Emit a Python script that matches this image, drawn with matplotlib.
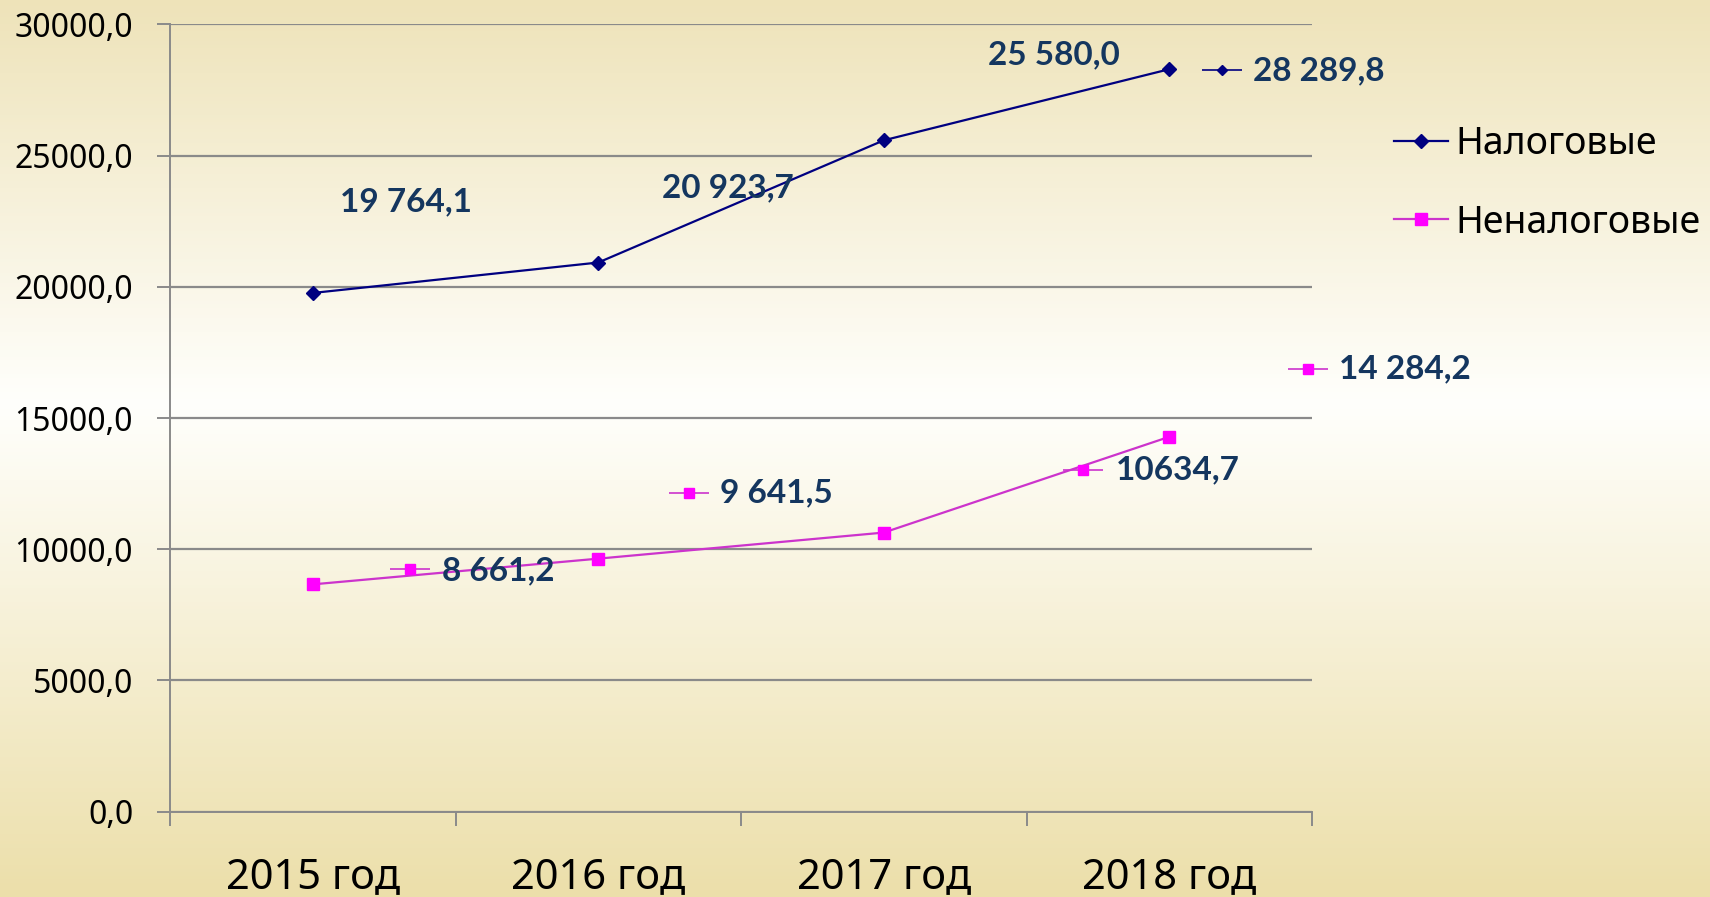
import numpy as np
import matplotlib
matplotlib.use('Agg')
import matplotlib.pyplot as plt
from matplotlib.colors import LinearSegmentedColormap
from matplotlib.transforms import offset_copy
from matplotlib.ticker import FixedLocator, FuncFormatter

plt.rcParams['font.family'] = ['Noto Sans', 'DejaVu Sans']

# data
years = ['2015 год', '2016 год', '2017 год', '2018 год']
tax = [19764.1, 20923.7, 25580.0, 28289.8]
nontax = [8661.2, 9641.5, 10634.7, 14284.2]
tax_labels = ['19 764,1', '20 923,7', '25 580,0', '28 289,8']
nontax_labels = ['8 661,2', '9 641,5', '10634,7', '14 284,2']

# label placement (offsets in points from the data point)
tax_key = [None, None, None, (38.0, -0.6)]
tax_text = [(67.5, 65.9, 'center'), (93.0, 53.9, 'center'),
            (122.3, 61.8, 'center'), (60.3, -1.0, 'left')]
nontax_key = [(70.1, 10.9), (65.5, 47.3), (143.5, 45.1), (99.6, 49.1)]
nontax_text = [(92.9, 10.0, 'left'), (87.5, 47.3, 'left'),
               (167.0, 45.1, 'left'), (122.4, 49.1, 'left')]

navy = '#000080'
mag_line = '#CC33CC'
mag = '#FF00FF'
lbl_col = '#14365F'
grid_col = '#8A8A8A'

fig = plt.figure(figsize=(17.1, 8.97), dpi=100)

# gradient background
bg = fig.add_axes([0, 0, 1, 1], zorder=0)
cmap = LinearSegmentedColormap.from_list('bg', [
    (0.0, (238/255, 227/255, 185/255)),
    (0.45, (255/255, 255/255, 252/255)),
    (1.0, (236/255, 223/255, 170/255))])
bg.imshow(np.linspace(0, 1, 256).reshape(-1, 1), cmap=cmap, aspect='auto',
          extent=[0, 1, 0, 1])
bg.axis('off')

ax = fig.add_axes([0.0994, 0.0951, 0.6679, 0.8778], zorder=1)
ax.set_facecolor('none')

x = np.arange(len(years))
ax.plot(x, tax, color=navy, lw=1.6, marker='D', ms=7, mfc=navy, mec=navy,
        label='Налоговые', zorder=4)
ax.plot(x, nontax, color=mag_line, lw=1.6, marker='s', ms=8.5, mfc=mag, mec=mag,
        label='Неналоговые', zorder=4)

ax.set_xlim(-0.5, 3.5)
ax.set_ylim(0, 30000)

# axes styling
for s in ['top', 'right']:
    ax.spines[s].set_visible(False)
for s in ['left', 'bottom']:
    ax.spines[s].set_color(grid_col)
    ax.spines[s].set_linewidth(1.4)

ax.yaxis.set_major_locator(FixedLocator(np.arange(0, 30001, 5000)))
ax.yaxis.set_major_formatter(FuncFormatter(lambda v, p: ('%.1f' % v).replace('.', ',')))
ax.grid(axis='y', color=grid_col, lw=1.6, zorder=1)
ax.tick_params(axis='y', length=9.5, width=1.4, color=grid_col, pad=17, labelsize=23)

ax.set_xticks(x)
ax.set_xticklabels(years)
ax.set_xticks(np.arange(-0.5, 4, 1), minor=True)
ax.tick_params(axis='x', which='major', length=0, pad=32, labelsize=30)
ax.tick_params(axis='x', which='minor', length=10, width=1.4, color=grid_col)

# data labels with keys
def add_labels(vals, labels, keys, texts, color, lcolor, marker, ms):
    for i, v in enumerate(vals):
        if keys[i] is not None:
            kx, ky = keys[i]
            tr = offset_copy(ax.transData, fig=fig, x=kx, y=ky, units='points')
            ax.plot(x[i], v, marker='_', ms=29, mew=1.2, color=lcolor,
                    transform=tr, clip_on=False, zorder=5)
            ax.plot(x[i], v, marker=marker, ms=ms, mfc=color, mec=color,
                    transform=tr, clip_on=False, zorder=6)
        tx, ty, ha = texts[i]
        ax.annotate(labels[i], (x[i], v), xytext=(tx, ty), textcoords='offset points',
                    ha=ha, va='center', fontsize=24, fontweight='bold',
                    family=['Lato', 'Roboto', 'DejaVu Sans'],
                    color=lbl_col, annotation_clip=False, zorder=7)

add_labels(tax, tax_labels, tax_key, tax_text, navy, navy, 'D', 5.5)
add_labels(nontax, nontax_labels, nontax_key, nontax_text, mag, mag_line, 's', 7)

leg = ax.legend(loc='upper left', bbox_to_anchor=(1394/1710, 1 - 125/897),
                bbox_transform=fig.transFigure, frameon=False, fontsize=27,
                handlelength=1.44, handletextpad=0.2, labelspacing=1.08,
                borderpad=0, borderaxespad=0)

fig.savefig('out.png', dpi=100)
